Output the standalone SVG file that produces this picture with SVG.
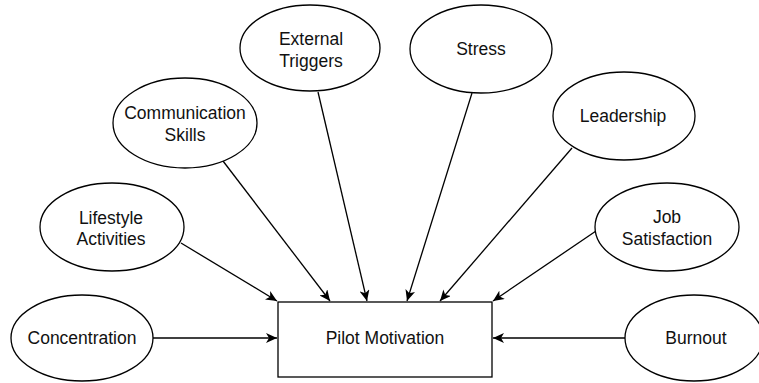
<svg xmlns="http://www.w3.org/2000/svg" width="759" height="383" viewBox="0 0 759 383">
<defs>
<style>
.n{fill:#fff;stroke:#000;stroke-width:1.3}
.t{font-family:"Liberation Sans",Arial,sans-serif;font-size:17.5px;fill:#111;text-anchor:middle}
.c{fill:none;stroke:#000;stroke-width:1.3}
</style>
<marker id="ah" markerUnits="userSpaceOnUse" markerWidth="12" markerHeight="10" refX="11" refY="5" orient="auto">
<path d="M0,0 L11,5 L0,10 L3,5 z" fill="#000"/>
</marker>
</defs>
<rect width="759" height="383" fill="#fff"/>
<g id="connectors">
<line class="c" x1="153" y1="338" x2="277" y2="338" marker-end="url(#ah)"/>
<line class="c" x1="625" y1="338" x2="493" y2="338" marker-end="url(#ah)"/>
<line class="c" x1="181" y1="243" x2="277" y2="301" marker-end="url(#ah)"/>
<line class="c" x1="223" y1="161" x2="330" y2="301" marker-end="url(#ah)"/>
<line class="c" x1="318" y1="92" x2="367" y2="301" marker-end="url(#ah)"/>
<line class="c" x1="472" y1="93" x2="407" y2="301" marker-end="url(#ah)"/>
<line class="c" x1="572" y1="148" x2="440" y2="301" marker-end="url(#ah)"/>
<line class="c" x1="596" y1="231" x2="493" y2="301" marker-end="url(#ah)"/>
</g>
<g id="pilot-motivation">
<rect class="n" x="278" y="302" width="214" height="75"/>
<text class="t" x="385" y="344">Pilot Motivation</text>
</g>
<g id="concentration">
<ellipse class="n" cx="82" cy="338" rx="71" ry="43"/>
<text class="t" x="82" y="344">Concentration</text>
</g>
<g id="burnout">
<ellipse class="n" cx="694" cy="338" rx="69" ry="43"/>
<text class="t" x="696" y="344">Burnout</text>
</g>
<g id="lifestyle-activities">
<ellipse class="n" cx="112" cy="227" rx="72" ry="44"/>
<text class="t" x="111" y="224">Lifestyle</text>
<text class="t" x="111" y="245">Activities</text>
</g>
<g id="job-satisfaction">
<ellipse class="n" cx="667" cy="227" rx="72" ry="44"/>
<text class="t" x="667" y="223">Job</text>
<text class="t" x="667" y="245">Satisfaction</text>
</g>
<g id="communication-skills">
<ellipse class="n" cx="185" cy="123" rx="72" ry="45"/>
<text class="t" x="185" y="119">Communication</text>
<text class="t" x="185" y="141">Skills</text>
</g>
<g id="leadership">
<ellipse class="n" cx="624" cy="116" rx="71" ry="44"/>
<text class="t" x="623" y="122">Leadership</text>
</g>
<g id="external-triggers">
<ellipse class="n" cx="310" cy="48" rx="70" ry="43"/>
<text class="t" x="311" y="45">External</text>
<text class="t" x="311" y="67">Triggers</text>
</g>
<g id="stress">
<ellipse class="n" cx="481" cy="49" rx="71" ry="44"/>
<text class="t" x="481" y="55">Stress</text>
</g>
</svg>
